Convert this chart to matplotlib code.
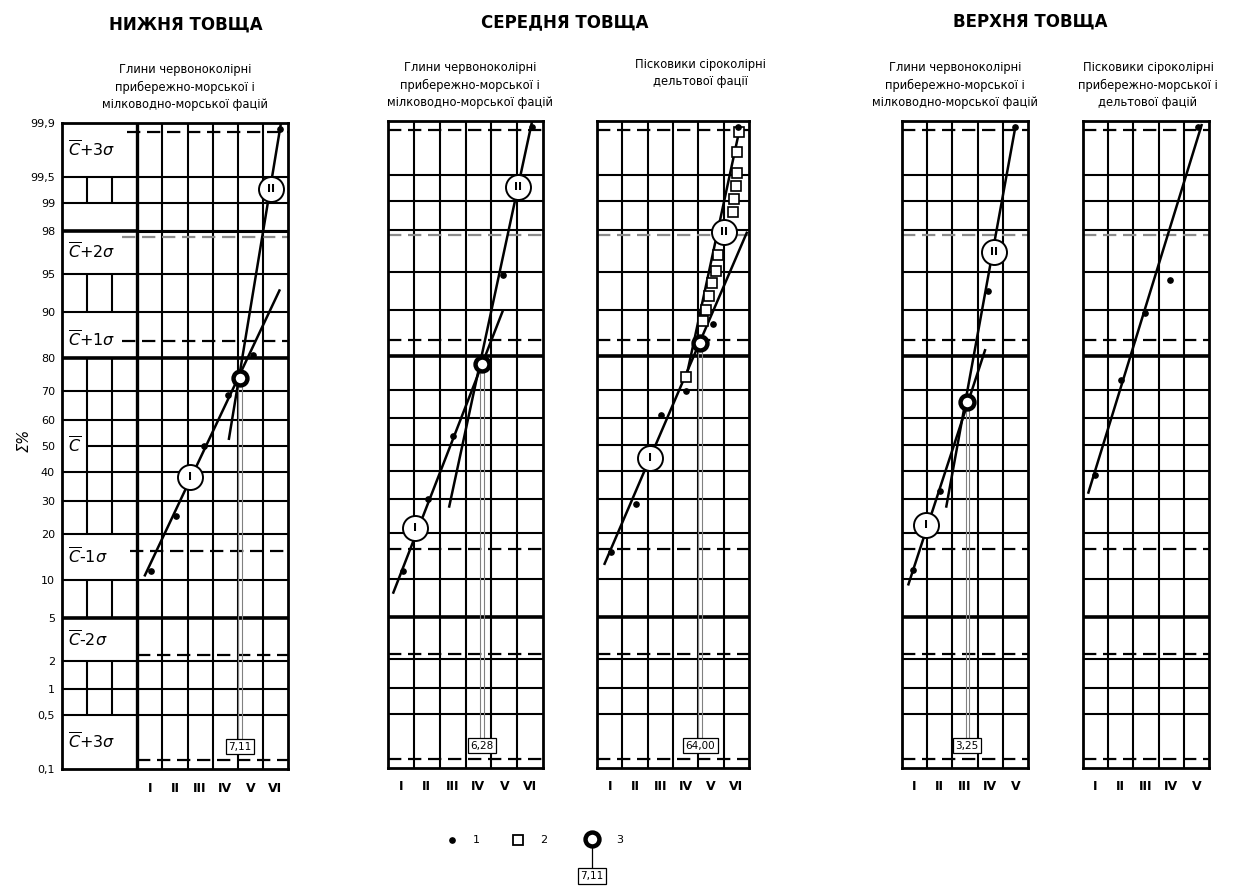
import numpy as np
import matplotlib
matplotlib.use("Agg")
import matplotlib.pyplot as plt
from matplotlib.ticker import NullLocator
from statistics import NormalDist

plt.rcParams['font.family'] = ['DejaVu Sans']
plt.rcParams['mathtext.fontset'] = 'dejavusans'

# ---------------- data ----------------
ROMAN = ['I', 'II', 'III', 'IV', 'V', 'VI']
PCT_TICKS = [0.1, 0.5, 1, 2, 5, 10, 20, 30, 40, 50, 60, 70, 80, 90, 95, 98, 99, 99.5, 99.9]
PCT_LABELS = ['0,1', '0,5', '1', '2', '5', '10', '20', '30', '40', '50', '60', '70',
              '80', '90', '95', '98', '99', '99,5', '99,9']
GRID_P = [0.5, 1, 2, 5, 10, 20, 30, 40, 50, 60, 70, 80, 90, 95, 98, 99, 99.5]
SIGMA_P = [0.135, 2.275, 15.87, 84.13, 97.725, 99.865]      # C-3σ, C-2σ, C-1σ, C+1σ, C+2σ, C+3σ

TITLES = ['НИЖНЯ ТОВЩА', 'СЕРЕДНЯ ТОВЩА', 'ВЕРХНЯ ТОВЩА']
SUB_CLAY = 'Глини червоноколірні\nприбережно-морської і\nмілководно-морської фацій'
SUB_SAND_D = 'Пісковики сіроколірні\nдельтової фації'
SUB_SAND_PD = 'Пісковики сіроколірні\nприбережно-морської і\nдельтової фацій'

# panel 1 (нижня товща, глини)
p1_dots_x = [0.56, 1.52, 2.64, 3.6, 4.6, 5.68]
p1_dots_y = [11.6, 25.0, 50.0, 68.6, 80.7, 99.88]
p1_l1_x, p1_l1_y = [0.28, 5.68], [10.6, 93.3]
p1_l2_x, p1_l2_y = [3.64, 5.72], [52.3, 99.9]
p1_c1 = (2.08, 38.3)
p1_c2 = (5.32, 99.3)
p1_m3 = (4.08, 74.2)
p1_val = '7,11'

# panel 2 (середня товща, глини)
p2_dots_x = [0.58, 1.55, 2.52, 4.46, 5.58]
p2_dots_y = [11.4, 30.2, 53.1, 94.7, 99.88]
p2_l1_x, p2_l1_y = [0.19, 4.46], [7.7, 90.1]
p2_l2_x, p2_l2_y = [2.36, 5.58], [27.3, 99.9]
p2_c1 = (1.05, 21.2)
p2_c2 = (5.04, 99.3)
p2_m3 = (3.64, 77.9)
p2_val = '6,28'

# panel 3 (середня товща, пісковики)
p3_dots_x = [0.55, 1.54, 2.53, 3.5, 4.58, 5.57]
p3_dots_y = [15.2, 28.5, 61.2, 69.4, 87.5, 99.88]
p3_sq_x = [5.61, 5.53, 5.53, 5.49, 5.42, 5.38, 4.78, 4.70, 4.55, 4.43, 4.31, 4.19, 3.52]
p3_sq_y = [99.86, 99.74, 99.53, 99.33, 99.06, 98.67, 96.5, 95.1, 93.8, 92.2, 90.0, 88.0, 73.9]
p3_l1_x, p3_l1_y = [0.28, 5.93], [12.5, 97.9]
p3_l2_x, p3_l2_y = [3.56, 5.65], [75.3, 99.88]
p3_c1 = (2.09, 44.8)
p3_c2 = (5.02, 97.9)
p3_m3 = (4.07, 83.3)
p3_val = '64,00'

# panel 4 (верхня товща, глини)
p4_dots_x = [0.44, 1.51, 3.43, 4.5]
p4_dots_y = [11.6, 32.9, 92.9, 99.88]
p4_l1_x, p4_l1_y = [0.24, 3.31], [8.9, 81.9]
p4_l2_x, p4_l2_y = [1.75, 4.5], [27.3, 99.88]
p4_c1 = (0.96, 22.0)
p4_c2 = (3.67, 96.7)
p4_m3 = (2.59, 65.7)
p4_val = '3,25'

# panel 5 (верхня товща, пісковики)
p5_dots_x = [0.48, 1.51, 2.46, 3.45, 4.56]
p5_dots_y = [38.6, 73.2, 89.5, 94.2, 99.88]
p5_l1_x, p5_l1_y = [0.2, 4.72], [31.9, 99.89]

# ---------------- scale ----------------
_ND = NormalDist()
_f = np.vectorize(lambda v: _ND.inv_cdf(v / 100.0), otypes=[float])
_g = np.vectorize(lambda z: _ND.cdf(z) * 100.0, otypes=[float])


def fwd(p):
    p = np.clip(np.asarray(p, dtype=float), 1e-7, 100 - 1e-7)
    return _f(p)


def inv(z):
    return _g(np.asarray(z, dtype=float))


W, H = 1235, 886
fig = plt.figure(figsize=(W / 100, H / 100), dpi=100)


def rect(x0, x1, y0, y1):
    return [x0 / W, 1 - y1 / H, (x1 - x0) / W, (y1 - y0) / H]


GRID_LW = 1.5
THICK_LW = 2.6
DASH = (0, (6, 3))


def setup(ax, ncol, x0, sig_starts):
    ax.set_yscale('function', functions=(fwd, inv))
    ax.set_ylim(0.1, 99.9)
    ax.set_xlim(x0, ncol)
    for s in ax.spines.values():
        s.set_linewidth(2.0)
    for p in GRID_P:
        lw = THICK_LW if p in (80, 5) else GRID_LW
        ax.hlines(p, 0, ncol, color='k', lw=lw, zorder=1)
    ax.vlines(list(range(1, ncol)), 0.1, 99.9, color='k', lw=GRID_LW, zorder=1)
    for p, st in zip(SIGMA_P, sig_starts):
        col = '0.55' if abs(p - 97.725) < 0.01 else 'k'
        ax.hlines(p, st, ncol, color=col, lw=1.6, linestyles=DASH, zorder=1.5)
    ax.set_xticks([i + 0.5 for i in range(ncol)])
    ax.set_xticklabels(ROMAN[:ncol], fontsize=9, fontweight='bold')
    ax.tick_params(axis='x', length=0, pad=9)
    ax.yaxis.set_minor_locator(NullLocator())
    ax.xaxis.set_minor_locator(NullLocator())


def data(ax, dx, dy, lines, circles, m3=None, val=None, sq=None):
    for lx, ly in lines:
        ax.plot(lx, ly, color='k', lw=1.8, zorder=3, solid_capstyle='butt')
    if sq is not None:
        ax.plot(sq[0], sq[1], ls='none', marker='s', ms=6.5, mfc='white', mec='k',
                mew=1.2, zorder=4)
    ax.plot(dx, dy, ls='none', marker='o', ms=3.8, color='k', zorder=5, clip_on=False)
    for (cx, cy), lab in circles:
        ax.plot([cx], [cy], marker='o', ms=18, mfc='white', mec='k', mew=1.4, zorder=6)
        ax.text(cx, cy, lab, ha='center', va='center', fontsize=8, fontweight='bold', zorder=7)
    if m3 is not None:
        ax.vlines([m3[0] - 0.07, m3[0] + 0.07], 0.2, m3[1], color='0.5', lw=0.8, zorder=2)
        ax.plot([m3[0]], [m3[1]], marker='o', ms=10, mfc='white', mec='k', mew=3.2, zorder=6)
        ax.text(m3[0], 0.2, val, ha='center', va='center', fontsize=7.5, zorder=7,
                bbox=dict(boxstyle='square,pad=0.25', fc='white', ec='k', lw=0.9))


# ---------- panel 1 ----------
ax1 = fig.add_axes(rect(62, 288, 123, 769))
setup(ax1, 6, -3, [0, 0, -0.3, -0.6, -0.6, -0.4])
ax1.vlines(0, 0.1, 99.9, color='k', lw=2.4, zorder=1)
ax1.set_yticks(PCT_TICKS)
ax1.set_yticklabels(PCT_LABELS, fontsize=8)
ax1.tick_params(axis='y', length=0, pad=5)
# left table
for p in [0.5, 1, 2, 5, 10, 20, 30, 40, 60, 70, 80, 90, 95, 98, 99, 99.5]:
    lw = THICK_LW if p in (80, 5, 98) else GRID_LW
    ax1.hlines(p, -3, 0, color='k', lw=lw, zorder=1)
ax1.hlines(98, 0, 6, color='k', lw=2.2, zorder=1)
ax1.hlines(50, -2, 0, color='k', lw=GRID_LW, zorder=1)
for lo, hi in [(99, 99.5), (90, 95), (20, 80), (5, 10), (0.5, 2)]:
    ax1.vlines([-2, -1], lo, hi, color='k', lw=GRID_LW, zorder=1)
sig_labels = [(99.77, r'$\overline{C}{+}3\sigma$'), (96.8, r'$\overline{C}{+}2\sigma$'),
              (84.6, r'$\overline{C}{+}1\sigma$'), (50.0, r'$\overline{C}$'),
              (14.4, r'$\overline{C}$-$1\sigma$'), (3.2, r'$\overline{C}$-$2\sigma$'),
              (0.23, r'$\overline{C}{+}3\sigma$')]
for yv, t in sig_labels:
    ax1.text(-2.78, yv, t, ha='left', va='center', fontsize=11.5, zorder=8)
data(ax1, p1_dots_x, p1_dots_y, [(p1_l1_x, p1_l1_y), (p1_l2_x, p1_l2_y)],
     [(p1_c1, 'I'), (p1_c2, 'II')], p1_m3, p1_val)

# ---------- panel 2 ----------
ax2 = fig.add_axes(rect(388, 543, 121, 768))
setup(ax2, 6, 0, [0] * 6)
ax2.set_yticks([])
data(ax2, p2_dots_x, p2_dots_y, [(p2_l1_x, p2_l1_y), (p2_l2_x, p2_l2_y)],
     [(p2_c1, 'I'), (p2_c2, 'II')], p2_m3, p2_val)

# ---------- panel 3 ----------
ax3 = fig.add_axes(rect(597, 749, 121, 768))
setup(ax3, 6, 0, [0] * 6)
ax3.set_yticks([])
data(ax3, p3_dots_x, p3_dots_y, [(p3_l1_x, p3_l1_y), (p3_l2_x, p3_l2_y)],
     [(p3_c1, 'I'), (p3_c2, 'II')], p3_m3, p3_val, sq=(p3_sq_x, p3_sq_y))

# ---------- panel 4 ----------
ax4 = fig.add_axes(rect(902, 1028, 121, 768))
setup(ax4, 5, 0, [0] * 6)
ax4.set_yticks([])
data(ax4, p4_dots_x, p4_dots_y, [(p4_l1_x, p4_l1_y), (p4_l2_x, p4_l2_y)],
     [(p4_c1, 'I'), (p4_c2, 'II')], p4_m3, p4_val)

# ---------- panel 5 ----------
ax5 = fig.add_axes(rect(1083, 1209, 121, 768))
setup(ax5, 5, 0, [0] * 6)
ax5.set_yticks([])
data(ax5, p5_dots_x, p5_dots_y, [(p5_l1_x, p5_l1_y)], [])

# ---------- texts ----------
for (x, y), t in zip([(186, 25), (565, 22), (1030, 22)], TITLES):
    fig.text(x / W, 1 - y / H, t, ha='center', va='center', fontsize=12, fontweight='bold')
for (x, y), t in zip([(185, 87), (470, 85), (700, 73), (955, 85), (1148, 85)],
                     [SUB_CLAY, SUB_CLAY, SUB_SAND_D, SUB_CLAY, SUB_SAND_PD]):
    fig.text(x / W, 1 - y / H, t, ha='center', va='center', fontsize=8.3, linespacing=1.4)
fig.text(24 / W, 1 - 440 / H, 'Σ%', rotation=90, ha='center', va='center',
         fontsize=10.5, style='italic')

# ---------- legend ----------
lg = fig.add_axes(rect(430, 640, 822, 886))
lg.set_xlim(430, 640)
lg.set_ylim(886, 822)
lg.axis('off')
lg.plot([452], [840], marker='o', ms=3.8, color='k', ls='none')
lg.text(476, 840, '1', ha='center', va='center', fontsize=8)
lg.plot([518], [840], marker='s', ms=7, mfc='white', mec='k', mew=1.3, ls='none')
lg.text(544, 840, '2', ha='center', va='center', fontsize=8)
lg.plot([592, 592], [840, 868], color='k', lw=0.9)
lg.plot([592], [839], marker='o', ms=10, mfc='white', mec='k', mew=3.2, ls='none')
lg.text(620, 840, '3', ha='center', va='center', fontsize=8)
lg.text(592, 876, '7,11', ha='center', va='center', fontsize=7.5,
        bbox=dict(boxstyle='square,pad=0.25', fc='white', ec='k', lw=0.9))

fig.savefig('out.png', dpi=100, facecolor='white')
